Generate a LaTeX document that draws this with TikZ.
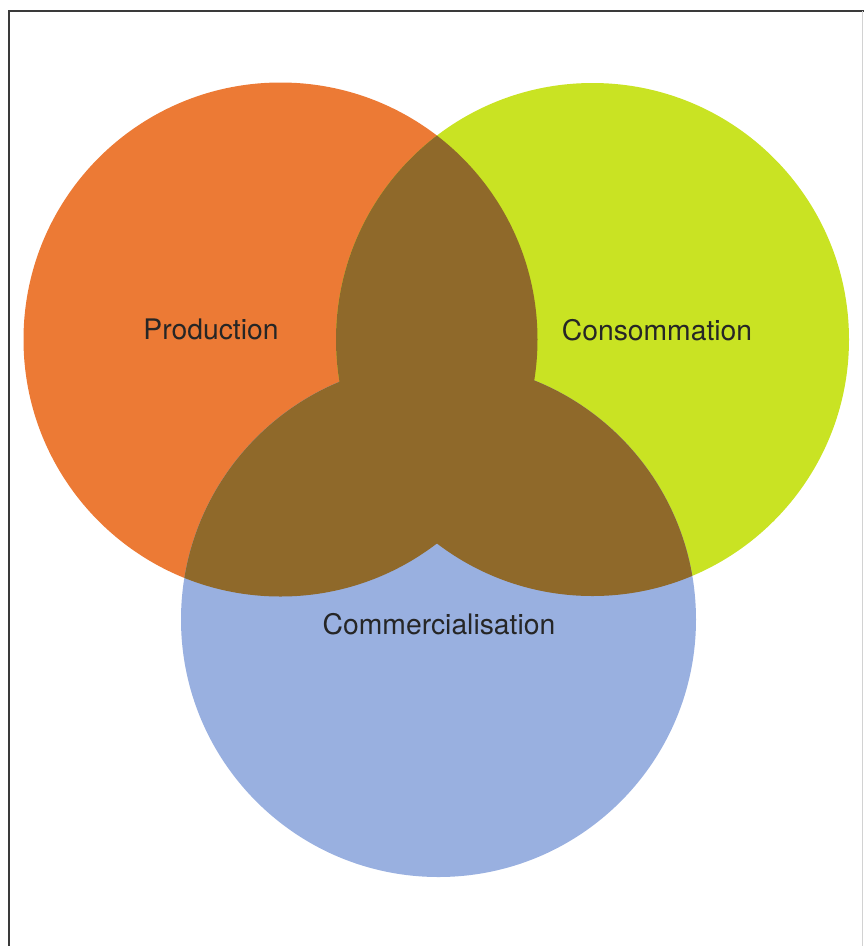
\documentclass[tikz,border=0pt]{standalone}
\usepackage{fontspec}
\setmainfont{TeX Gyre Heros}
\definecolor{prodcol}{HTML}{EC7A35}
\definecolor{conscol}{HTML}{C9E323}
\definecolor{commcol}{HTML}{99B0E0}
\definecolor{overlap}{HTML}{8F692A}
\definecolor{txtcol}{HTML}{262626}
\definecolor{framecol}{HTML}{3A3A3A}
\tikzset{
  lbl/.style={text=txtcol, font=\fontsize{28.3}{32}\selectfont, inner sep=0pt},
  framestroke/.style={draw=framecol, line width=1.8pt}
}
\begin{document}
\begin{tikzpicture}[x=1pt,y=-1pt]
\useasboundingbox (0,0) rectangle (864,946);
\coordinate (cp) at (280.5,339.5);
\coordinate (cc) at (592.5,339.5);
\coordinate (cm) at (438.5,619.5);
% frame
\coordinate (f1) at (9,946);
\coordinate (f2) at (9,11);
\coordinate (f3) at (864,11);
\coordinate (f4) at (862,11);
\coordinate (f5) at (862,946);
\draw[framestroke] (f1) -- (f2) -- (f3);
\draw[draw=gray!35, line width=1pt] (f4) -- (f5);
% circles
\fill[prodcol] (cp) circle[radius=257pt];
\fill[conscol] (cc) circle[radius=256.5pt];
\fill[commcol] (cm) circle[radius=257.5pt];
% overlaps
\begin{scope}
  \clip (cp) circle[radius=257pt];
  \fill[overlap] (cc) circle[radius=256.5pt];
  \fill[overlap] (cm) circle[radius=257.5pt];
\end{scope}
\begin{scope}
  \clip (cc) circle[radius=256.5pt];
  \fill[overlap] (cm) circle[radius=257.5pt];
\end{scope}
% labels
\node[lbl] (prod) at (211,329) {Production};
\node[lbl] (cons) at (657,330) {Consommation};
\node[lbl] (comm) at (439,624) {Commercialisation};
\end{tikzpicture}
\end{document}
